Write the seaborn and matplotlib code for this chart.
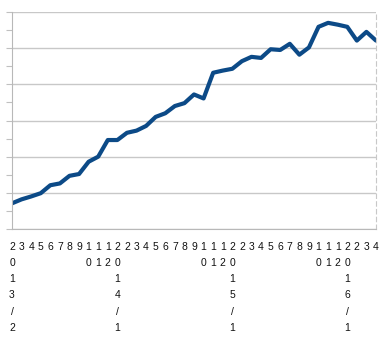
import matplotlib
matplotlib.use("Agg")
import matplotlib.pyplot as plt
from matplotlib.ticker import MultipleLocator
import seaborn as sns
import pandas as pd

months = ["2013/2", "3", "4", "5", "6", "7", "8", "9", "10", "11", "12",
          "2014/1", "2", "3", "4", "5", "6", "7", "8", "9", "10", "11", "12",
          "2015/1", "2", "3", "4", "5", "6", "7", "8", "9", "10", "11", "12",
          "2016/1", "2", "3", "4"]
values = [7.1, 8.2, 9.0, 9.9, 12.1, 12.6, 14.7, 15.2, 18.6, 20.0, 24.6,
          24.6, 26.6, 27.2, 28.5, 31.0, 32.0, 34.0, 34.8, 37.2, 36.1, 43.2,
          43.8, 44.3, 46.4, 47.6, 47.3, 49.7, 49.5, 51.2, 48.2, 50.2, 55.9,
          57.0, 56.5, 55.9, 52.1, 54.5, 52.1]

df = pd.DataFrame({"pos": range(len(values)), "value": values})

sns.set_style("white")
plt.rcParams["font.family"] = ["Liberation Sans", "DejaVu Sans"]

fig = plt.figure(figsize=(3.91, 3.43), dpi=100)
ax = fig.add_axes([12 / 391, 1 - 229 / 343, (376 - 12) / 391, (229 - 12) / 343])

sns.lineplot(data=df, x="pos", y="value", ax=ax, color="#0c4a87", linewidth=3.0)

ax.set_xlim(0, len(values) - 1)
ax.set_ylim(0, 60)
ax.yaxis.set_major_locator(MultipleLocator(10))
ax.yaxis.set_minor_locator(MultipleLocator(5))
ax.grid(axis="y", which="major", color="#c8c8c8", linewidth=1.0)
ax.set_axisbelow(True)
ax.set_yticklabels([])
ax.tick_params(axis="y", which="both", direction="out", length=4, width=0.8,
               color="#c0c0c0", left=True, labelleft=False)

ax.set_xticks(range(len(months)))
ax.set_xticklabels(["\n".join(m) for m in months], fontsize=7.5,
                   color="#111111", linespacing=1.76)
ax.tick_params(axis="x", direction="out", length=4.5, width=0.8,
               color="#c0c0c0", pad=5)

ax.set_xlabel("")
ax.set_ylabel("")
for s in ["top"]:
    ax.spines[s].set_visible(False)
ax.spines["left"].set_color("#b8b8b8")
ax.spines["bottom"].set_color("#b8b8b8")
ax.spines["right"].set_color("#c8c8c8")
ax.spines["right"].set_linestyle((0, (4, 3)))
ax.spines["right"].set_linewidth(0.8)

fig.savefig("out.png", dpi=100)
